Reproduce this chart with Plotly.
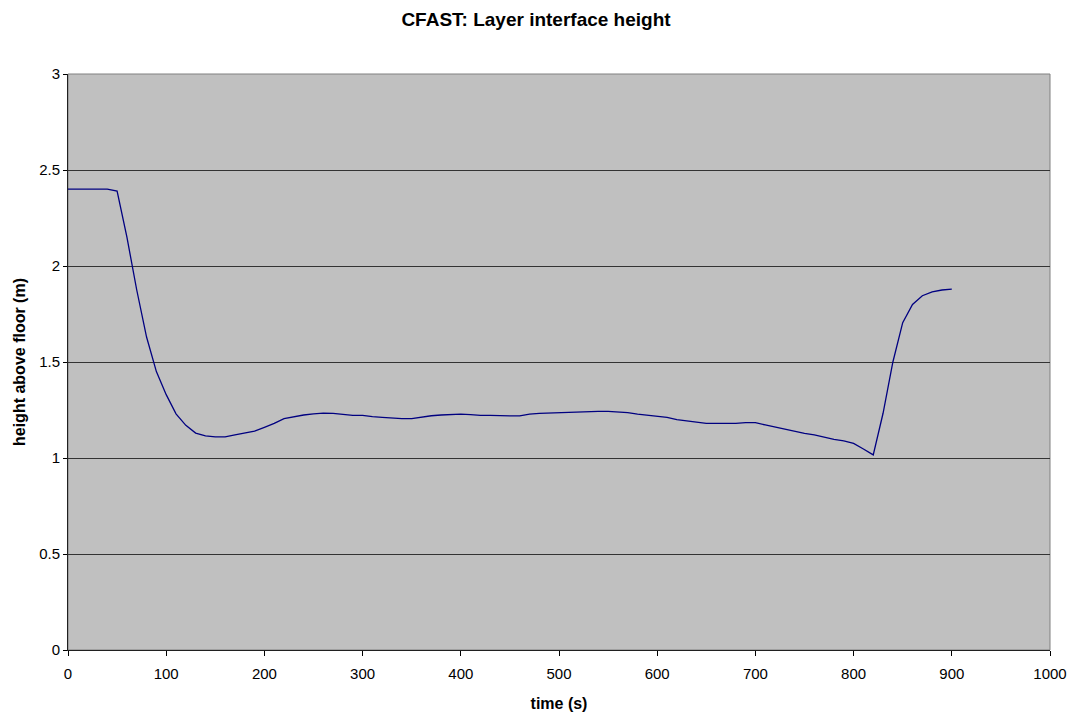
import plotly.graph_objects as go

time_s = [0, 10, 20, 30, 40, 50, 60, 70, 80, 90, 100, 110, 120, 130, 140, 150, 160, 170, 180, 190,
          200, 210, 220, 230, 240, 250, 260, 270, 280, 290, 300, 310, 320, 330, 340, 350, 360, 370, 380, 390,
          400, 410, 420, 430, 440, 450, 460, 470, 480, 490, 500, 510, 520, 530, 540, 550, 560, 570, 580, 590,
          600, 610, 620, 630, 640, 650, 660, 670, 680, 690, 700, 710, 720, 730, 740, 750, 760, 770, 780, 790,
          800, 810, 820, 830, 840, 850, 860, 870, 880, 890, 900]
height_m = [2.40, 2.40, 2.40, 2.40, 2.40, 2.39, 2.15, 1.875, 1.63, 1.45, 1.33, 1.23, 1.17, 1.13, 1.115, 1.11, 1.11, 1.12, 1.13, 1.14,
            1.16, 1.18, 1.205, 1.215, 1.224, 1.23, 1.234, 1.232, 1.226, 1.222, 1.222, 1.215, 1.212, 1.208, 1.205, 1.205, 1.213, 1.22, 1.224, 1.226,
            1.229, 1.226, 1.222, 1.222, 1.219, 1.219, 1.219, 1.229, 1.232, 1.234, 1.237, 1.238, 1.24, 1.242, 1.243, 1.243, 1.24, 1.236, 1.229, 1.224,
            1.22, 1.212, 1.20, 1.194, 1.186, 1.18, 1.18, 1.18, 1.18, 1.184, 1.184, 1.172, 1.16, 1.149, 1.137, 1.128, 1.12, 1.108, 1.097, 1.089,
            1.076, 1.047, 1.016, 1.233, 1.50, 1.705, 1.80, 1.845, 1.865, 1.875, 1.88]

title_text = "CFAST: Layer interface height"
x_title = "time (s)"
y_title = "height above floor (m)"

FONT = "Liberation Sans, Arial, sans-serif"

fig = go.Figure()
fig.add_trace(go.Scatter(x=time_s, y=height_m, mode="lines",
                         line=dict(color="#000080", width=1.3), showlegend=False,
                         hoverinfo="x+y"))

fig.update_layout(
    width=1072, height=714,
    paper_bgcolor="white", plot_bgcolor="#C0C0C0",
    margin=dict(l=68, r=22, t=74, b=64, autoexpand=False),
    title=dict(text="<b>" + title_text + "</b>", x=0.5, xanchor="center",
               y=1 - 19 / 714, yanchor="middle",
               font=dict(family=FONT, size=19, color="black")),
    font=dict(family=FONT, size=15, color="black"),
)
fig.update_xaxes(
    range=[0, 1000], tick0=0, dtick=100, showgrid=False, zeroline=False,
    showline=True, linecolor="#202020", linewidth=1, mirror=False,
    ticks="outside", ticklen=5, tickcolor="black", automargin=False,
    ticklabelstandoff=5,
    title=dict(text="<b>" + x_title + "</b>", font=dict(family=FONT, size=16), standoff=16),
    tickfont=dict(family=FONT, size=15),
)
fig.update_yaxes(
    range=[0, 3], tick0=0, dtick=0.5, showgrid=True, gridcolor="#333333", gridwidth=1,
    zeroline=False, showline=True, linecolor="#202020", linewidth=1,
    ticks="outside", ticklen=4, tickcolor="black", automargin=False,
    title=dict(text="<b>" + y_title + "</b>", font=dict(family=FONT, size=16), standoff=9),
    tickfont=dict(family=FONT, size=15),
)
# plot area border
fig.add_shape(type="rect", xref="paper", yref="paper", x0=0, y0=0, x1=1, y1=1,
              line=dict(color="#808080", width=1), layer="below")

fig.write_html("out.html", config={"displayModeBar": False},
               post_script="document.body.style.margin='0';document.body.style.overflow='hidden';")
